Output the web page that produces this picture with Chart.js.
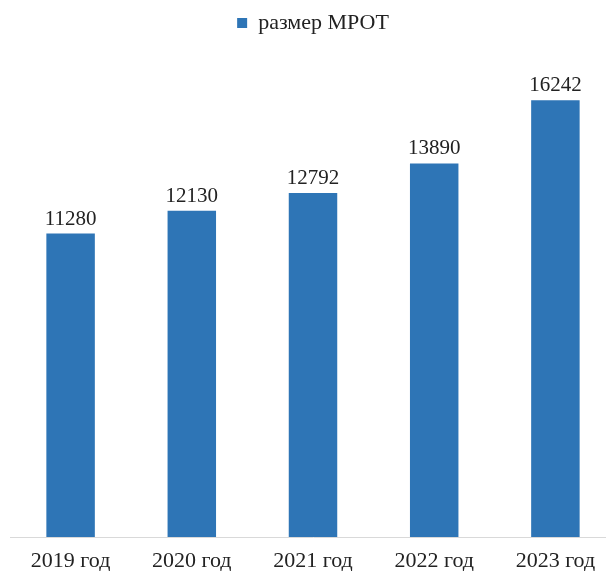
<!DOCTYPE html>
<html>
<head>
<meta charset="utf-8">
<script src="https://cdn.jsdelivr.net/npm/chart.js@4/dist/chart.umd.min.js"></script>
<style>
  html, body { margin: 0; padding: 0; background: #fff; overflow: hidden; }
  #wrap { width: 606px; height: 571px; overflow: hidden; }
</style>
</head>
<body>
<div id="wrap"><canvas id="main-chart" width="616" height="571"></canvas></div>
<script>
const years = ["2019 год", "2020 год", "2021 год", "2022 год", "2023 год"];
const mrot = [11280, 12130, 12792, 13890, 16242];
const seriesName = "размер МРОТ";

// value labels above bars (no datalabels plugin available)
const barValues = {
    id: "barValues",
    afterDatasetsDraw(chart) {
        const ctx = chart.ctx;
        const meta = chart.getDatasetMeta(0);
        ctx.save();
        ctx.font = "21px 'Liberation Serif'";
        ctx.fillStyle = "#222";
        ctx.textAlign = "center";
        ctx.textBaseline = "alphabetic";
        meta.data.forEach((bar, i) => {
            ctx.fillText(mrot[i], bar.x, bar.y - 9);
        });
        ctx.restore();
    },
};

const canvas = document.getElementById("main-chart");
new Chart(canvas, {
    type: "bar",
    data: {
        labels: years,
        datasets: [
            {
                label: seriesName,
                data: mrot,
                backgroundColor: "#2E75B6",
                borderWidth: 0,
                categoryPercentage: 1,
                barPercentage: 0.4,
            },
        ],
    },
    options: {
        responsive: false,
        animation: false,
        layout: {
            padding: { top: 4, left: 10, right: 0, bottom: -14 },
        },
        scales: {
            x: {
                grid: { display: false, drawTicks: false },
                border: { display: true, color: "#d9d9d9", width: 1 },
                ticks: {
                    color: "#222",
                    padding: 13,
                    font: { family: "Liberation Serif", size: 22, lineHeight: 1 },
                },
            },
            y: {
                display: false,
                min: 0,
                max: 18330,
            },
        },
        plugins: {
            legend: {
                display: true,
                position: "top",
                labels: {
                    color: "#222",
                    boxWidth: 10,
                    boxHeight: 10,
                    padding: 8,
                    font: { family: "Liberation Serif", size: 22 },
                },
            },
            tooltip: { enabled: false },
        },
    },
    plugins: [barValues],
});
</script>
</body>
</html>
